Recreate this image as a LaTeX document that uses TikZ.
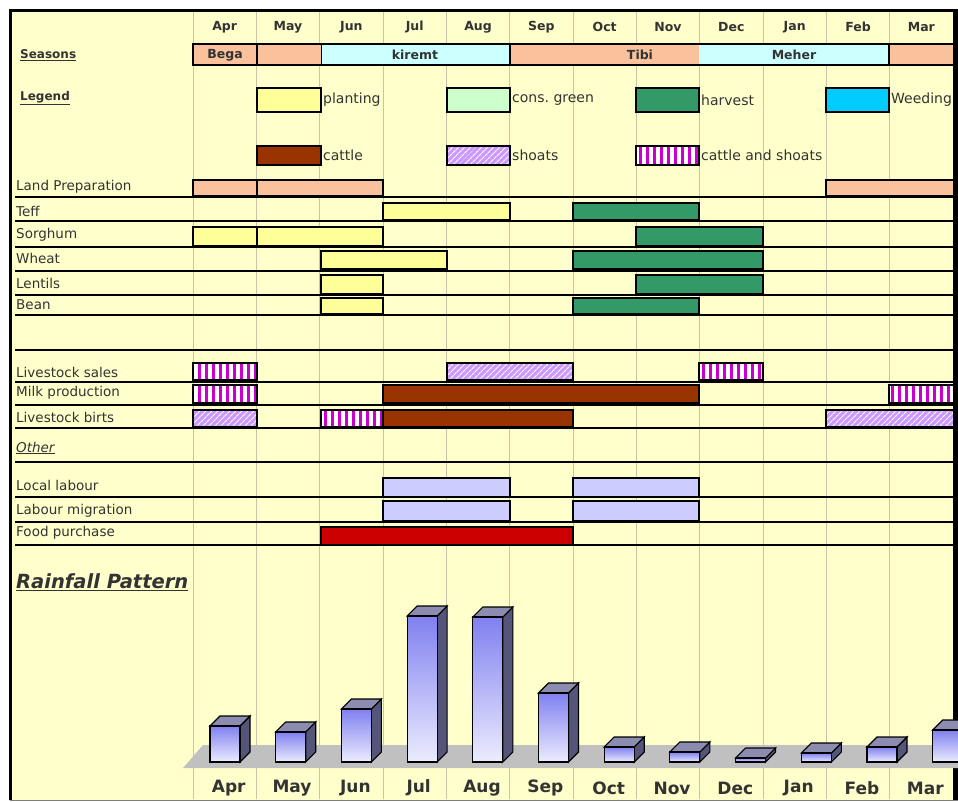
\documentclass[tikz,border=0pt]{standalone}
\usepackage{fontspec}
\setmainfont{DejaVu Sans}
\usetikzlibrary{patterns.meta}

\definecolor{sheetbg}{HTML}{FFFFCC}
\definecolor{gridgray}{HTML}{C8C4A8}
\definecolor{peach}{HTML}{F9C29C}
\definecolor{paleblue}{HTML}{CCFFFF}
\definecolor{plantyel}{HTML}{FFFF99}
\definecolor{consgreen}{HTML}{CCFFCC}
\definecolor{harvgreen}{HTML}{339966}
\definecolor{weedblue}{HTML}{00CCFF}
\definecolor{cattlebrown}{HTML}{993300}
\definecolor{shoatlilac}{HTML}{CC99FF}
\definecolor{mixmagenta}{HTML}{CC00CC}
\definecolor{labourblue}{HTML}{CCCCFF}
\definecolor{foodred}{HTML}{CC0000}
\definecolor{floorgray}{HTML}{C0C0C0}
\definecolor{bardark}{HTML}{8080F0}
\definecolor{barlight}{HTML}{ECECFF}
\definecolor{barside}{HTML}{55557A}
\definecolor{bartop}{HTML}{8C8CB0}
\definecolor{labeltext}{HTML}{333333}

\begin{document}
\begin{tikzpicture}[
    x=1pt, y=-1pt,
    every node/.style={inner sep=1pt, text=labeltext},
    gridline/.style ={draw=gridgray, line width=0.9pt},
    rowline/.style  ={draw=black, line width=1.3pt},
    gbar/.style     ={draw=black, line width=2.6pt},
    prepbar/.style  ={gbar, fill=peach},
    plantbar/.style ={gbar, fill=plantyel},
    consbar/.style  ={gbar, fill=consgreen},
    harvbar/.style  ={gbar, fill=harvgreen},
    weedbar/.style  ={gbar, fill=weedblue},
    cattlebar/.style={gbar, fill=cattlebrown},
    shoatbar/.style ={gbar, preaction={fill=shoatlilac},
                      pattern={Lines[angle=45, distance=4pt, line width=1.1pt]},
                      pattern color=white},
    mixbar/.style   ={gbar, preaction={fill=mixmagenta},
                      pattern={Lines[angle=90, distance=7pt, line width=3.3pt]},
                      pattern color=white},
    labourbar/.style={gbar, fill=labourblue},
    foodbar/.style  ={gbar, fill=foodred},
    monthhd/.style  ={font=\bfseries\fontsize{12.5}{14}\selectfont},
    seasontxt/.style={font=\bfseries\fontsize{12.5}{14}\selectfont},
    headlbl/.style  ={anchor=west, font=\bfseries\fontsize{12}{14}\selectfont},
    rowlbl/.style   ={anchor=west, font=\fontsize{13.5}{15}\selectfont},
    legtxt/.style   ={anchor=west, font=\fontsize{14}{16}\selectfont},
    monthft/.style  ={font=\bfseries\fontsize{17}{19}\selectfont}
]
\useasboundingbox (0,0) rectangle (958,801);

% =================== sheet and month grid ===================
\fill[white] (0,0) rectangle (958,801);
\fill[sheetbg] (11,11) rectangle (955,800);
\foreach \i in {0,...,11}
    \draw[gridline] ({193+63.33*\i},12) -- ({193+63.33*\i},799);

\foreach \m [count=\i from 0] in {Apr,May,Jun,Jul,Aug,Sep,Oct,Nov,Dec,Jan,Feb,Mar}
    \node[monthhd] (mh-\i) at ({224.7+63.33*\i},27) {\m};

% =================== seasons ===================
\node[headlbl] (seasons) at (19,55) {\underline{Seasons}};
\fill[peach]    (193,44) rectangle (321,65);
\fill[paleblue] (321,44) rectangle (510,65);
\fill[peach]    (510,44) rectangle (699,65);
\fill[paleblue] (699,44) rectangle (889,65);
\fill[peach]    (889,44) rectangle (958,65);
\draw[line width=0.8pt] (321,44) -- (321,65);
\draw[gbar] (193,44) rectangle (257,65);
\draw[gbar] (257,44) rectangle (510,65);
\draw[gbar] (510,44) rectangle (889,65);
\draw[gbar] (960,44) -- (889,44) -- (889,65) -- (960,65);
\node[seasontxt] (bega)   at (225,55) {Bega};
\node[seasontxt] (kiremt) at (415,55) {kiremt};
\node[seasontxt] (tibi)   at (640,55) {Tibi};
\node[seasontxt] (meher)  at (794,55) {Meher};

% =================== legend ===================
\node[headlbl] (legend) at (19,98) {\underline{Legend}};
\draw[plantbar] (257,88) rectangle (321,112);
\node[legtxt] (lg-plant) at (322,100) {planting};
\draw[consbar] (447,88) rectangle (510,112);
\node[legtxt] (lg-cons) at (511,100) {cons.\ green};
\draw[harvbar] (636,88) rectangle (699,112);
\node[legtxt] (lg-harv) at (700,100) {harvest};
\draw[weedbar] (826,88) rectangle (889,112);
\node[legtxt] (lg-weed) at (890,100) {Weeding};

\draw[cattlebar] (257,146) rectangle (321,165);
\node[legtxt] (lg-cattle) at (322,155) {cattle};
\draw[shoatbar] (447,146) rectangle (510,165);
\node[legtxt] (lg-shoat) at (511,155) {shoats};
\draw[mixbar] (636,146) rectangle (699,165);
\node[legtxt] (lg-mix) at (700,155) {cattle and shoats};

% =================== activity rows ===================
\foreach \y in {197,221,247,271,295,315,350,382,405,428,462,497,522,545}
    \draw[rowline] (15,\y) -- (953,\y);

\node[rowlbl] (prep)    at (15,187) {Land Preparation};
\node[rowlbl] (teff)    at (15,211) {Teff};
\node[rowlbl] (sorghum) at (15,235) {Sorghum};
\node[rowlbl] (wheat)   at (15,258) {Wheat};
\node[rowlbl] (lentils) at (15,283) {Lentils};
\node[rowlbl] (bean)    at (15,305) {Bean};

\draw[prepbar] (193,180) rectangle (257,196);
\draw[prepbar] (257,180) rectangle (383,196);
\draw[prepbar] (826,180) rectangle (962,196);
\draw[plantbar] (383,203) rectangle (510,220);
\draw[harvbar]  (573,203) rectangle (699,220);
\draw[plantbar] (193,227) rectangle (257,246);
\draw[plantbar] (257,227) rectangle (383,246);
\draw[harvbar]  (636,227) rectangle (763,246);
\draw[plantbar] (321,251) rectangle (447,269);
\draw[harvbar]  (573,251) rectangle (763,269);
\draw[plantbar] (321,275) rectangle (383,294);
\draw[harvbar]  (636,275) rectangle (763,294);
\draw[plantbar] (321,298) rectangle (383,314);
\draw[harvbar]  (573,298) rectangle (699,314);

% livestock
\node[rowlbl] (sales) at (15,372) {Livestock sales};
\node[rowlbl] (milk)  at (15,393) {Milk production};
\node[rowlbl] (birts) at (15,417) {Livestock birts};

\draw[mixbar]    (193,363) rectangle (257,380);
\draw[shoatbar]  (447,363) rectangle (573,380);
\draw[mixbar]    (699,363) rectangle (763,380);
\draw[mixbar]    (193,385) rectangle (257,403);
\draw[cattlebar] (383,385) rectangle (699,403);
\draw[mixbar]    (889,385) rectangle (962,403);
\draw[shoatbar]  (193,410) rectangle (257,427);
\draw[mixbar]    (321,410) rectangle (383,427);
\draw[cattlebar] (383,410) rectangle (573,427);
\draw[shoatbar]  (826,410) rectangle (962,427);

% other
\node[rowlbl] (other)   at (15,448) {\itshape\underline{Other}};
\node[rowlbl] (local)   at (15,485) {Local labour};
\node[rowlbl] (migr)    at (15,511) {Labour migration};
\node[rowlbl] (food)    at (15,533) {Food purchase};

\draw[labourbar] (383,478) rectangle (510,497);
\draw[labourbar] (573,478) rectangle (699,497);
\draw[labourbar] (383,501) rectangle (510,521);
\draw[labourbar] (573,501) rectangle (699,521);
\draw[foodbar]   (321,527) rectangle (573,545);

% =================== frame ===================
\draw[line width=3pt] (10.5,800) -- (10.5,10.5) -- (958,10.5);
\draw[line width=5pt] (955.5,10.5) -- (955.5,800);
\draw[gray, line width=1pt] (10,800.5) -- (958,800.5);

% =================== rainfall chart ===================
\node[anchor=west, font=\bfseries\itshape\fontsize{19.5}{22}\selectfont]
    (rain) at (15,582) {\underline{Rainfall Pattern}};

\fill[floorgray] (183,768) -- (203,745) -- (958,745) -- (958,768) -- cycle;

\begin{scope}
\clip (0,0) rectangle (958,801);
\foreach \i/\t in {0/726, 1/732, 2/709, 3/616, 4/617, 5/693,
                   6/747, 7/752, 8/758, 9/753, 10/747, 11/730} {
    \pgfmathsetmacro{\bx}{210+65.7*\i}
    \draw[line width=1.1pt, fill=barside] (\bx+30,\t) -- (\bx+40,\t-10)
        -- (\bx+40,752) -- (\bx+30,762) -- cycle;
    \draw[line width=1.1pt, fill=bartop] (\bx,\t) -- (\bx+10,\t-10)
        -- (\bx+40,\t-10) -- (\bx+30,\t) -- cycle;
    \draw[line width=1.1pt, top color=bardark, bottom color=barlight]
        (\bx,\t) rectangle (\bx+30,762);
}
\end{scope}

\foreach \m [count=\i from 0] in {Apr,May,Jun,Jul,Aug,Sep,Oct,Nov,Dec,Jan,Feb,Mar}
    \node[monthft] (mf-\i) at ({228.7+63.33*\i},788) {\m};

\end{tikzpicture}
\end{document}
